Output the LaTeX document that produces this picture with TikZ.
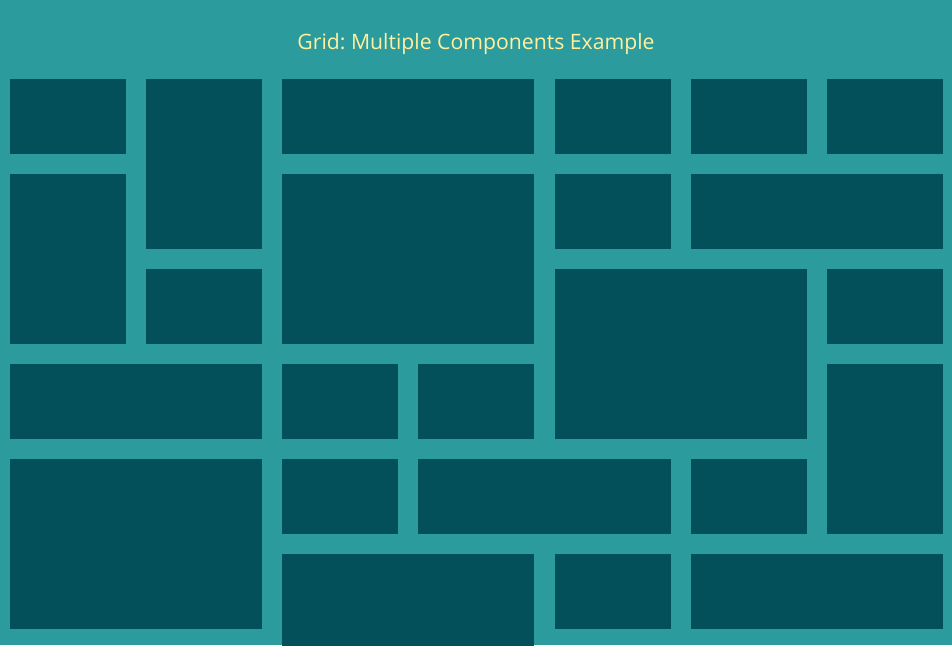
\documentclass[tikz,border=0pt]{standalone}
\usepackage{fontspec}
\setmainfont{Open Sans}
\definecolor{gridbg}{HTML}{2B9B9E}
\definecolor{cellfill}{HTML}{03505A}
\definecolor{titletext}{HTML}{FFF09E}
\frenchspacing
\begin{document}
\begin{tikzpicture}[x=1pt,y=-1pt]
    \coordinate (Origin)  at (0,0);
    \coordinate (PageMax) at (952,645);
    \useasboundingbox (Origin) rectangle (PageMax);
    \fill [gridbg] (Origin) rectangle (PageMax);% Draw background
    \node [titletext, font=\fontsize{21.2}{25}\selectfont, anchor=base] (Title) at (476,49.5) {Grid: Multiple Components Example};
    \clip (Origin) rectangle (PageMax);
    \foreach \c/\r/\w/\h in {0/0/1/1, 1/0/1/2, 2/0/2/1, 4/0/1/1, 5/0/1/1, 6/0/1/1,
                             0/1/1/2, 2/1/2/2, 4/1/1/1, 5/1/2/1,
                             1/2/1/1, 4/2/2/2, 6/2/1/1,
                             0/3/2/1, 2/3/1/1, 3/3/1/1, 6/3/1/2,
                             0/4/2/2, 2/4/1/1, 3/4/2/1, 5/4/1/1,
                             2/5/2/2, 4/5/1/1, 5/5/2/1}{% column, row, column span, row span
        \fill [cellfill] (10+136.14*\c, 79+95*\r) rectangle (136.14*\c+136.14*\w-10.14, 95*\r+95*\h+59);
    }
\end{tikzpicture}
\end{document}
